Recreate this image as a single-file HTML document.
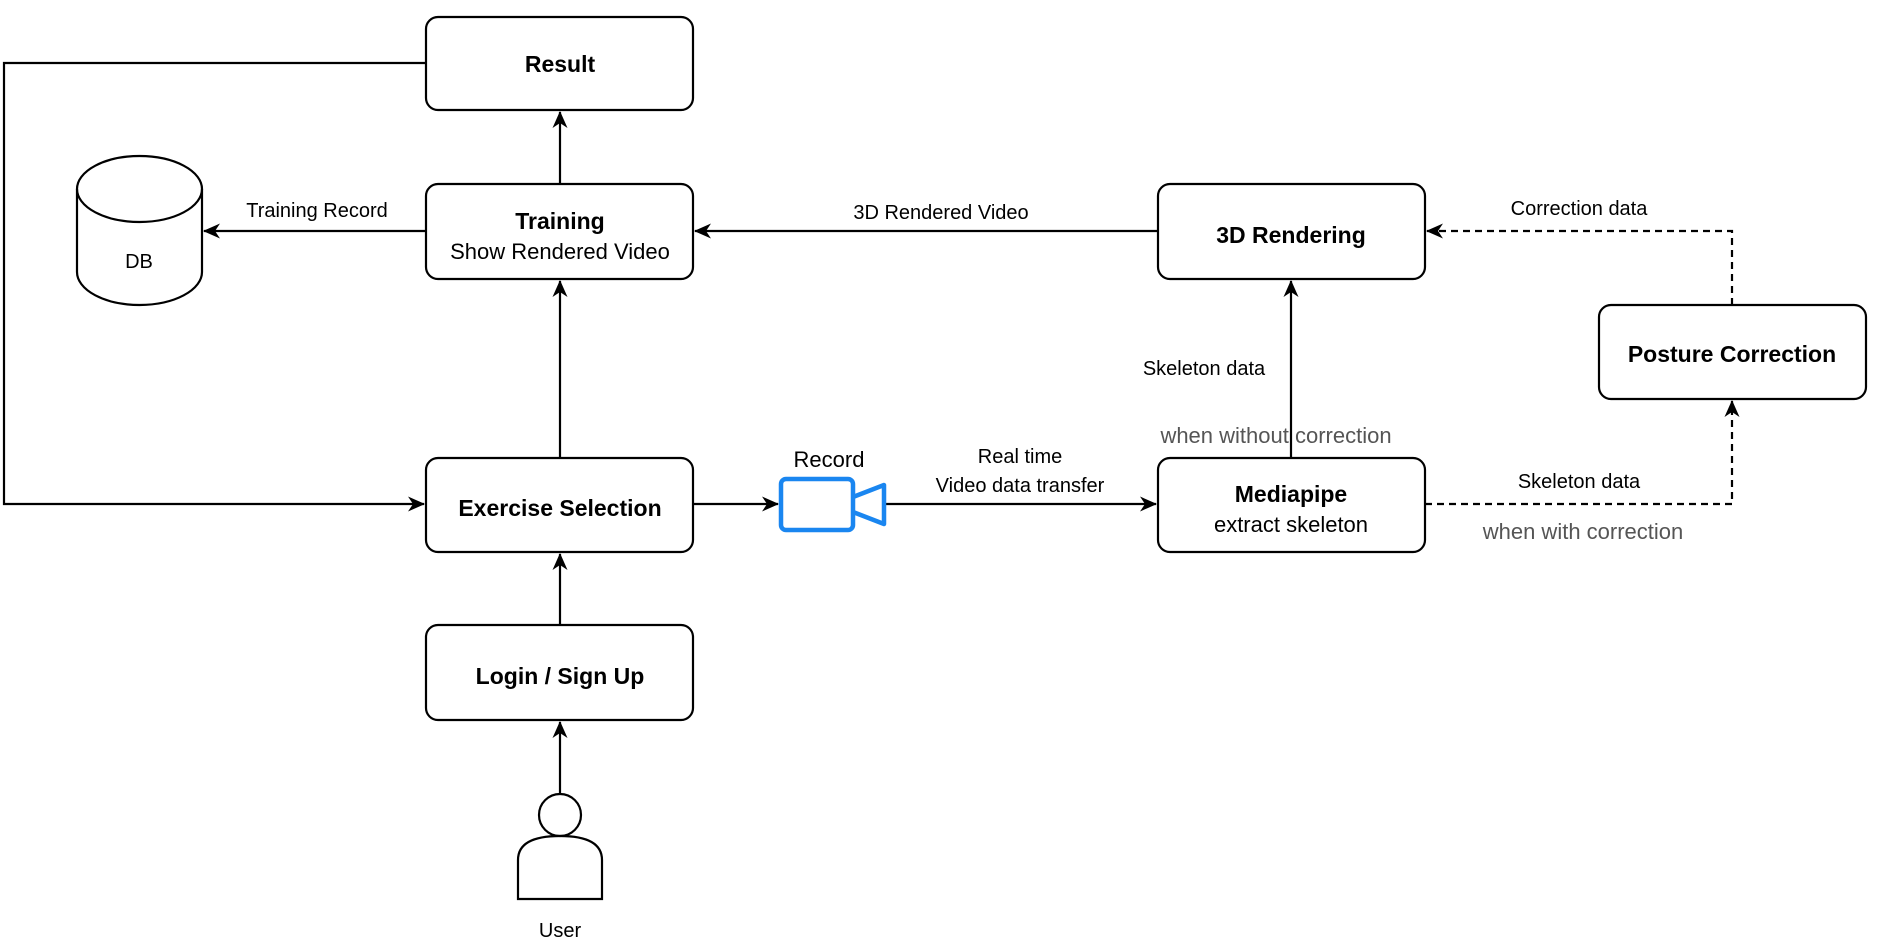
<!DOCTYPE html>
<html><head><meta charset="utf-8"><style>
html,body{margin:0;padding:0;background:#fff;}
svg{display:block;}
text{font-family:"Liberation Sans",sans-serif;}
.t{font-size:23px;font-weight:bold;fill:#000;}
.l{font-size:20px;fill:#000;}
.g{font-size:22px;fill:#555;}
</style></head><body>
<svg width="1878" height="952" viewBox="0 0 1878 952" xmlns="http://www.w3.org/2000/svg">
<defs>
<marker id="a" markerWidth="17" markerHeight="15" refX="16" refY="7.5" orient="auto" markerUnits="userSpaceOnUse">
<path d="M0,0 L17,7.5 L0,15 L5,7.5 Z" fill="#000"/></marker>
</defs>
<g fill="none" stroke="#000" stroke-width="2.2">
<rect x="426" y="17" width="267" height="93" rx="12"/>
<rect x="426" y="184" width="267" height="95" rx="12"/>
<rect x="426" y="458" width="267" height="94" rx="12"/>
<rect x="426" y="625" width="267" height="95" rx="12"/>
<rect x="1158" y="184" width="267" height="95" rx="12"/>
<rect x="1158" y="458" width="267" height="94" rx="12"/>
<rect x="1599" y="305" width="267" height="94" rx="12"/>
<path d="M77,189 L77,272 A62.5,33 0 0 0 202,272 L202,189"/>
<ellipse cx="139.5" cy="189" rx="62.5" ry="33"/>
<circle cx="560" cy="815" r="21"/>
<path d="M518,899 L518,860 Q518,836 560,836 Q602,836 602,860 L602,899 Z"/>
<path d="M426,63 L4,63 L4,504 L424,504" marker-end="url(#a)"/>
<path d="M560,184 L560,112" marker-end="url(#a)"/>
<path d="M426,231 L204,231" marker-end="url(#a)"/>
<path d="M560,458 L560,281" marker-end="url(#a)"/>
<path d="M560,625 L560,554" marker-end="url(#a)"/>
<path d="M560,793 L560,722" marker-end="url(#a)"/>
<path d="M693,504 L778,504" marker-end="url(#a)"/>
<path d="M886,504 L1156,504" marker-end="url(#a)"/>
<path d="M1158,231 L695,231" marker-end="url(#a)"/>
<path d="M1291,458 L1291,281" marker-end="url(#a)"/>
<path d="M1425,504 L1732,504 L1732,401" stroke-dasharray="7,5" marker-end="url(#a)"/>
<path d="M1732,305 L1732,231 L1427,231" stroke-dasharray="7,5" marker-end="url(#a)"/>
</g>
<g fill="none" stroke="#1a86f0" stroke-width="4.5" stroke-linejoin="round">
<rect x="781" y="479" width="72" height="51" rx="5"/>
<path d="M853,497 L884,485 L884,524 L853,512"/>
</g>
<g text-anchor="middle">
<text class="t" x="560" y="72">Result</text>
<text class="t" x="560" y="229">Training</text>
<text class="l" x="560" y="259" style="font-size:22px">Show Rendered Video</text>
<text class="t" x="560" y="516">Exercise Selection</text>
<text class="t" x="560" y="684">Login / Sign Up</text>
<text class="t" x="1291" y="243">3D Rendering</text>
<text class="t" x="1291" y="502">Mediapipe</text>
<text class="l" x="1291" y="532" style="font-size:22px">extract skeleton</text>
<text class="t" x="1732" y="362">Posture Correction</text>
<text class="l" x="139" y="268">DB</text>
<text class="l" x="560" y="937">User</text>
<text class="l" x="829" y="467" style="font-size:22px">Record</text>
<text class="l" x="317" y="217">Training Record</text>
<text class="l" x="941" y="219">3D Rendered Video</text>
<text class="l" x="1579" y="215">Correction data</text>
<text class="l" x="1204" y="375">Skeleton data</text>
<text class="g" x="1276" y="443">when without correction</text>
<text class="l" x="1020" y="463">Real time</text>
<text class="l" x="1020" y="492">Video data transfer</text>
<text class="l" x="1579" y="488">Skeleton data</text>
<text class="g" x="1583" y="539">when with correction</text>
</g>
</svg>
</body></html>
